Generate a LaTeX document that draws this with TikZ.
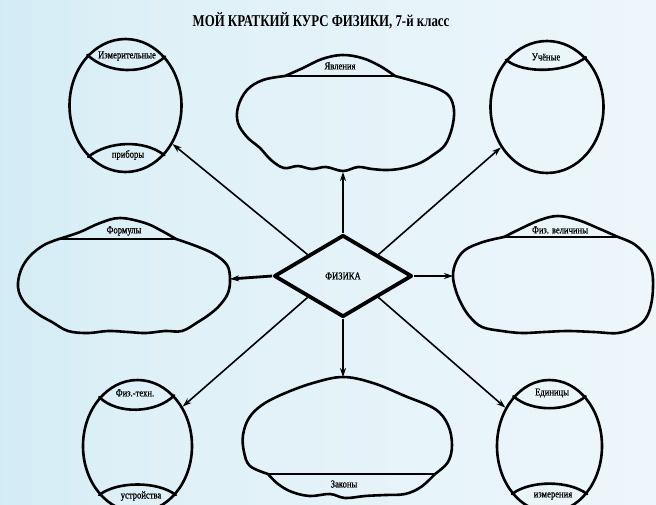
\documentclass[tikz,border=0pt]{standalone}
\usepackage{fontspec}
\setmainfont{Liberation Serif}
\newfontfamily\cond[FakeStretch=0.82,FakeBold=0.8]{Liberation Serif}
\newfontfamily\condt[FakeStretch=0.78]{Liberation Serif}
\usetikzlibrary{shapes.geometric,arrows.meta}
\definecolor{bgA}{RGB}{182,224,238}
\definecolor{bgB}{RGB}{222,240,247}
\definecolor{bgC}{RGB}{247,251,253}
\pgfdeclarehorizontalshading{bgshade}{100bp}{color(0bp)=(bgA); color(35bp)=(bgB); color(100bp)=(bgC)}
\begin{document}
\begin{tikzpicture}[x=1pt,y=-1pt,
  outline/.style={line width=2.6pt, line join=round, line cap=round},
  oval/.style={ellipse, draw, line width=2.6pt, inner sep=0pt},
  lbl/.style={font=\cond\fontsize{10.5}{11}\selectfont, inner sep=0pt},
  link/.style={-{Stealth[length=9pt,width=6pt]}, line width=1.6pt},
  chord/.style={line width=2pt},
  ]
\shade[shading=bgshade] (0,0) rectangle (656,504);
\useasboundingbox (0,0) rectangle (656,504);
\clip (0,0) rectangle (656,504);

% title
\node[font=\condt\bfseries\fontsize{16.5}{18}\selectfont, inner sep=0pt] (title) at (321,21) {МОЙ КРАТКИЙ КУРС ФИЗИКИ, 7-й класс};

% ovals
\node[oval, minimum width=112pt, minimum height=133pt] (izm) at (125.5,105.5) {};
\node[oval, minimum width=113pt, minimum height=132pt] (uch) at (547,107) {};
\node[oval, minimum width=109pt, minimum height=132pt] (fizteh) at (137.5,446) {};
\node[oval, minimum width=105pt, minimum height=132pt] (edin) at (549.5,446) {};

\draw[outline] (izm.127) .. controls +(20,19) and +(-20,19) .. (izm.51);
\draw[outline] (izm.234) .. controls +(20,-16) and +(-20,-16) .. (izm.308);
\draw[outline] (uch.131) .. controls +(18,15) and +(-18,15) .. (uch.52);
\draw[outline] (fizteh.128) .. controls +(18,18) and +(-18,18) .. (fizteh.54);
\draw[outline] (fizteh.232) .. controls +(18,-14) and +(-18,-14) .. (fizteh.308);
\draw[outline] (edin.126) .. controls +(18,16) and +(-18,16) .. (edin.54);
\draw[outline] (edin.232) .. controls +(18,-14) and +(-18,-14) .. (edin.308);

\node[lbl] (lizm) at (127,56) {Измерительные};
\node[lbl] (lpri) at (128,155) {приборы};
\node[lbl] (luch) at (546,57) {Учёные};
\node[lbl] (lfiz) at (135,393) {Физ.-техн.};
\node[lbl] (lust) at (141,496) {устройства};
\node[lbl] (ledi) at (552,393) {Единицы};
\node[lbl] (lizmr) at (553,496) {измерения};

% cloud: Явления
\draw[outline] plot[smooth, tension=0.6] coordinates {(285,76) (303,68) (322,59) (342,55) (362,58) (380,66) (395,76)};
\draw[chord] (285,76) -- (395,76);
\draw[outline] plot[smooth, tension=0.6] coordinates {(285,76) (263,80) (247,90) (238,107) (238,123) (247,137) (260,148) (271,160) (284,168) (298,166) (312,169) (326,167) (343,171) (358,167) (372,169) (388,170) (404,168) (420,163) (433,155) (445,145) (452,128) (454,110) (449,96) (436,88) (417,82) (395,76)};
\node[lbl] (lyav) at (340,66) {Явления};

% cloud: Формулы
\draw[outline] plot[smooth, tension=0.6] coordinates {(59,239) (80,232) (100,223) (120,218) (145,223) (162,231) (176,239)};
\draw[chord] (59,239) -- (176,239);
\draw[outline] plot[smooth, tension=0.6] coordinates {(59,239) (44,245) (30,256) (21,270) (18,287) (24,302) (38,314) (52,322) (68,331) (88,333) (108,331) (128,332) (146,333) (165,331) (182,331) (198,322) (210,314) (220,305) (228,293) (230,279) (227,265) (214,254) (196,246) (176,239)};
\node[lbl] (lfor) at (124,231) {Формулы};

% cloud: Физ. величины
\draw[outline] plot[smooth, tension=0.6] coordinates {(504,237) (520,229) (540,220) (558,216) (578,220) (600,229) (618,237)};
\draw[chord] (504,237) -- (618,237);
\draw[outline] plot[smooth, tension=0.6] coordinates {(504,237) (483,242) (465,250) (456,262) (453,276) (456,291) (462,305) (470,317) (482,327) (502,331) (522,333) (544,332) (568,331) (594,332) (618,333) (636,327) (646,318) (651,305) (653,288) (652,271) (646,256) (634,244) (618,237)};
\node[lbl] (lvel) at (560,230) {Физ. величины};

% cloud: Законы
\draw[outline] plot[smooth, tension=0.6] coordinates {(268,474) (250,466) (244,452) (243,435) (249,418) (262,405) (283,394) (313,383) (343,377) (373,383) (405,396) (435,409) (448,425) (452,445) (448,462) (435,474)};
\draw[chord] (268,474) -- (435,474);
\draw[outline] plot[smooth, tension=0.6] coordinates {(268,474) (278,484) (292,492) (310,496) (330,494) (345,498) (365,496) (385,495) (405,494) (421,487) (435,474)};
\node[lbl] (lzak) at (344,484) {Законы};

% centre
\node[diamond, draw, line width=3.8pt, line join=round, minimum width=138pt, minimum height=82pt, inner sep=0pt, font=\cond\fontsize{10.5}{11}\selectfont] (fiz) at (343,276) {ФИЗИКА};

\coordinate (yavIn) at (343,172);
\coordinate (zakIn) at (343,377);
\coordinate (forIn) at (230,279);
\coordinate (velIn) at (453,276);

\draw[link, line width=2.4pt] (fiz.north) -- (yavIn);
\draw[link, line width=1.3pt] (fiz.south) -- (zakIn);
\draw[link, line width=2.8pt] (fiz.west) -- (forIn);
\draw[link, line width=2.8pt] (fiz.east) -- (velIn);
\draw[link] (fiz.north west) -- (izm);
\draw[link] (fiz.north east) -- (uch);
\draw[link] (fiz.south west) -- (fizteh);
\draw[link] (fiz.south east) -- (edin);
\end{tikzpicture}
\end{document}
